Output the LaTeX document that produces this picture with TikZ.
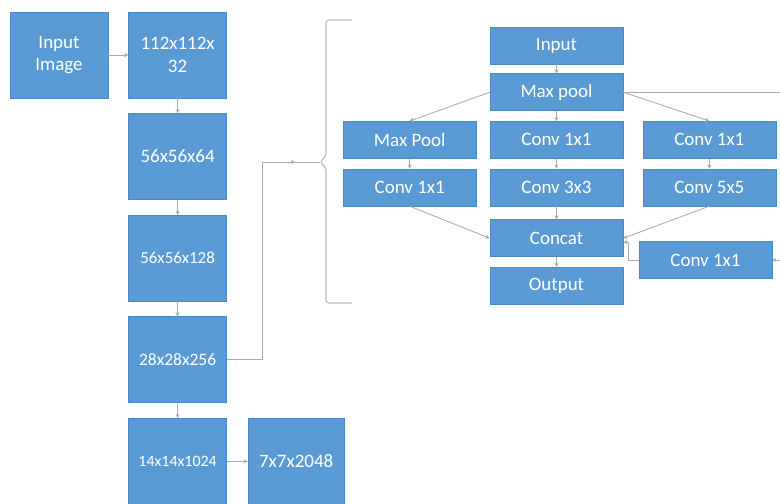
\documentclass[tikz,border=0pt]{standalone}
\usepackage{fontspec}
\setmainfont{Carlito}
\usetikzlibrary{arrows.meta,positioning}
\definecolor{boxBlue}{HTML}{5B9BD5}
\definecolor{boxEdge}{HTML}{4A89C8}
\definecolor{lineGray}{HTML}{A3ADB8}
\tikzset{
  % backbone column boxes
  blk/.style={
    rectangle,
    draw=boxEdge,
    fill=boxBlue,
    line width=0.4pt,
    minimum width=2.45cm,
    minimum height=2.15cm,
    inner sep=1pt,
    align=center,
    text=white,
    font=\fontsize{13.5}{16}\selectfont
  },
  % inception module boxes
  ibox/.style={
    rectangle,
    draw=boxEdge,
    fill=boxBlue,
    line width=0.4pt,
    minimum width=3.325cm,
    minimum height=0.925cm,
    inner sep=1pt,
    text=white,
    font=\fontsize{13.5}{16}\selectfont
  },
  % connector
  arr/.style={
    -{Stealth[length=3pt,width=3pt]},
    line width=0.6pt,
    lineGray
  },
  % plain line
  link/.style={
    line width=0.6pt,
    lineGray
  },
  % bracket round the module
  brk/.style={
    line width=0.8pt,
    lineGray!80,
    rounded corners=2pt
  }
}

\begin{document}
\begin{tikzpicture}[x=0.025cm, y=-0.025cm]
\useasboundingbox (0,0) rectangle (780,504);

%% === Backbone ===
\node[blk] (inimg) at (59,55) {Input\\Image};
\node[blk, right=0.5cm of inimg] (c112) {112x112x\\32};
\node[blk, below=0.375cm of c112] (c56a) {56x56x64};
\node[blk, below=0.375cm of c56a, font=\fontsize{12}{14}\selectfont] (c56b) {56x56x128};
\node[blk, below=0.375cm of c56b, font=\fontsize{12.4}{14}\selectfont] (c28) {28x28x256};
\node[blk, below=0.375cm of c28, font=\fontsize{11.3}{13}\selectfont] (c14) {14x14x1024};
\node[blk, right=0.525cm of c14, minimum width=2.4cm] (c7) {7x7x2048};

\draw[arr] (inimg) -- (c112);
\draw[arr] (c112) -- (c56a);
\draw[arr] (c56a) -- (c56b);
\draw[arr] (c56b) -- (c28);
\draw[arr] (c28) -- (c14);
\draw[arr] (c14) -- (c7);

%% === Inception module ===
\node[ibox] (iin) at (556.5,45.5) {Input};
\node[ibox, below=0.23cm of iin] (imax) {Max pool};
\node[ibox, below=0.25cm of imax] (imid1) {Conv 1x1};
\node[ibox, below=0.25cm of imid1] (imid3) {Conv 3x3};
\node[ibox, below=0.33cm of imid3] (icat) {Concat};
\node[ibox, below=0.25cm of icat] (iout) {Output};

% left branch
\node[ibox, left=0.33cm of imid1] (ilpool) {Max Pool};
\node[ibox, below=0.25cm of ilpool] (ilconv) {Conv 1x1};

% right branch
\node[ibox, right=0.48cm of imid1] (irc1) {Conv 1x1};
\node[ibox, below=0.25cm of irc1] (irc5) {Conv 5x5};
\node[ibox] (irc1b) at (705.5,260) {Conv 1x1};

\draw[arr] (iin) -- (imax);
\draw[arr] (imax) -- (imid1);
\draw[arr] (imid1) -- (imid3);
\draw[arr] (imid3) -- (icat);
\draw[arr] (icat) -- (iout);
\draw[arr] (imax.west) -- (ilpool.north);
\draw[arr] (imax.east) -- (irc1.north);
\draw[arr] (ilpool) -- (ilconv);
\draw[arr] (irc1) -- (irc5);
\draw[arr] (ilconv.south) -- (icat.west);
\draw[arr] (irc5.south) -- (icat.east);

% branch that leaves the page on the right
\coordinate (rout) at (800,0);
\draw[arr] (imax.east) -- (imax.east -| rout) |- (irc1b.east);
\draw[arr] (irc1b.west) -- ++(-10,0) |- ([yshift=-0.1cm]icat.east);

%% === Bracket and feed from 28x28x256 ===
\coordinate (bin) at (295,162);
\coordinate (btip) at (320,162);
\draw[arr] (c28.east) -- ++(36,0) |- (bin);
\draw[link] (bin) -- (btip);
\draw[brk] (352,20) -- (326,20) -- (326,156) -- (btip) -- (326,168) -- (326,303) -- (352,303);

\end{tikzpicture}
\end{document}
